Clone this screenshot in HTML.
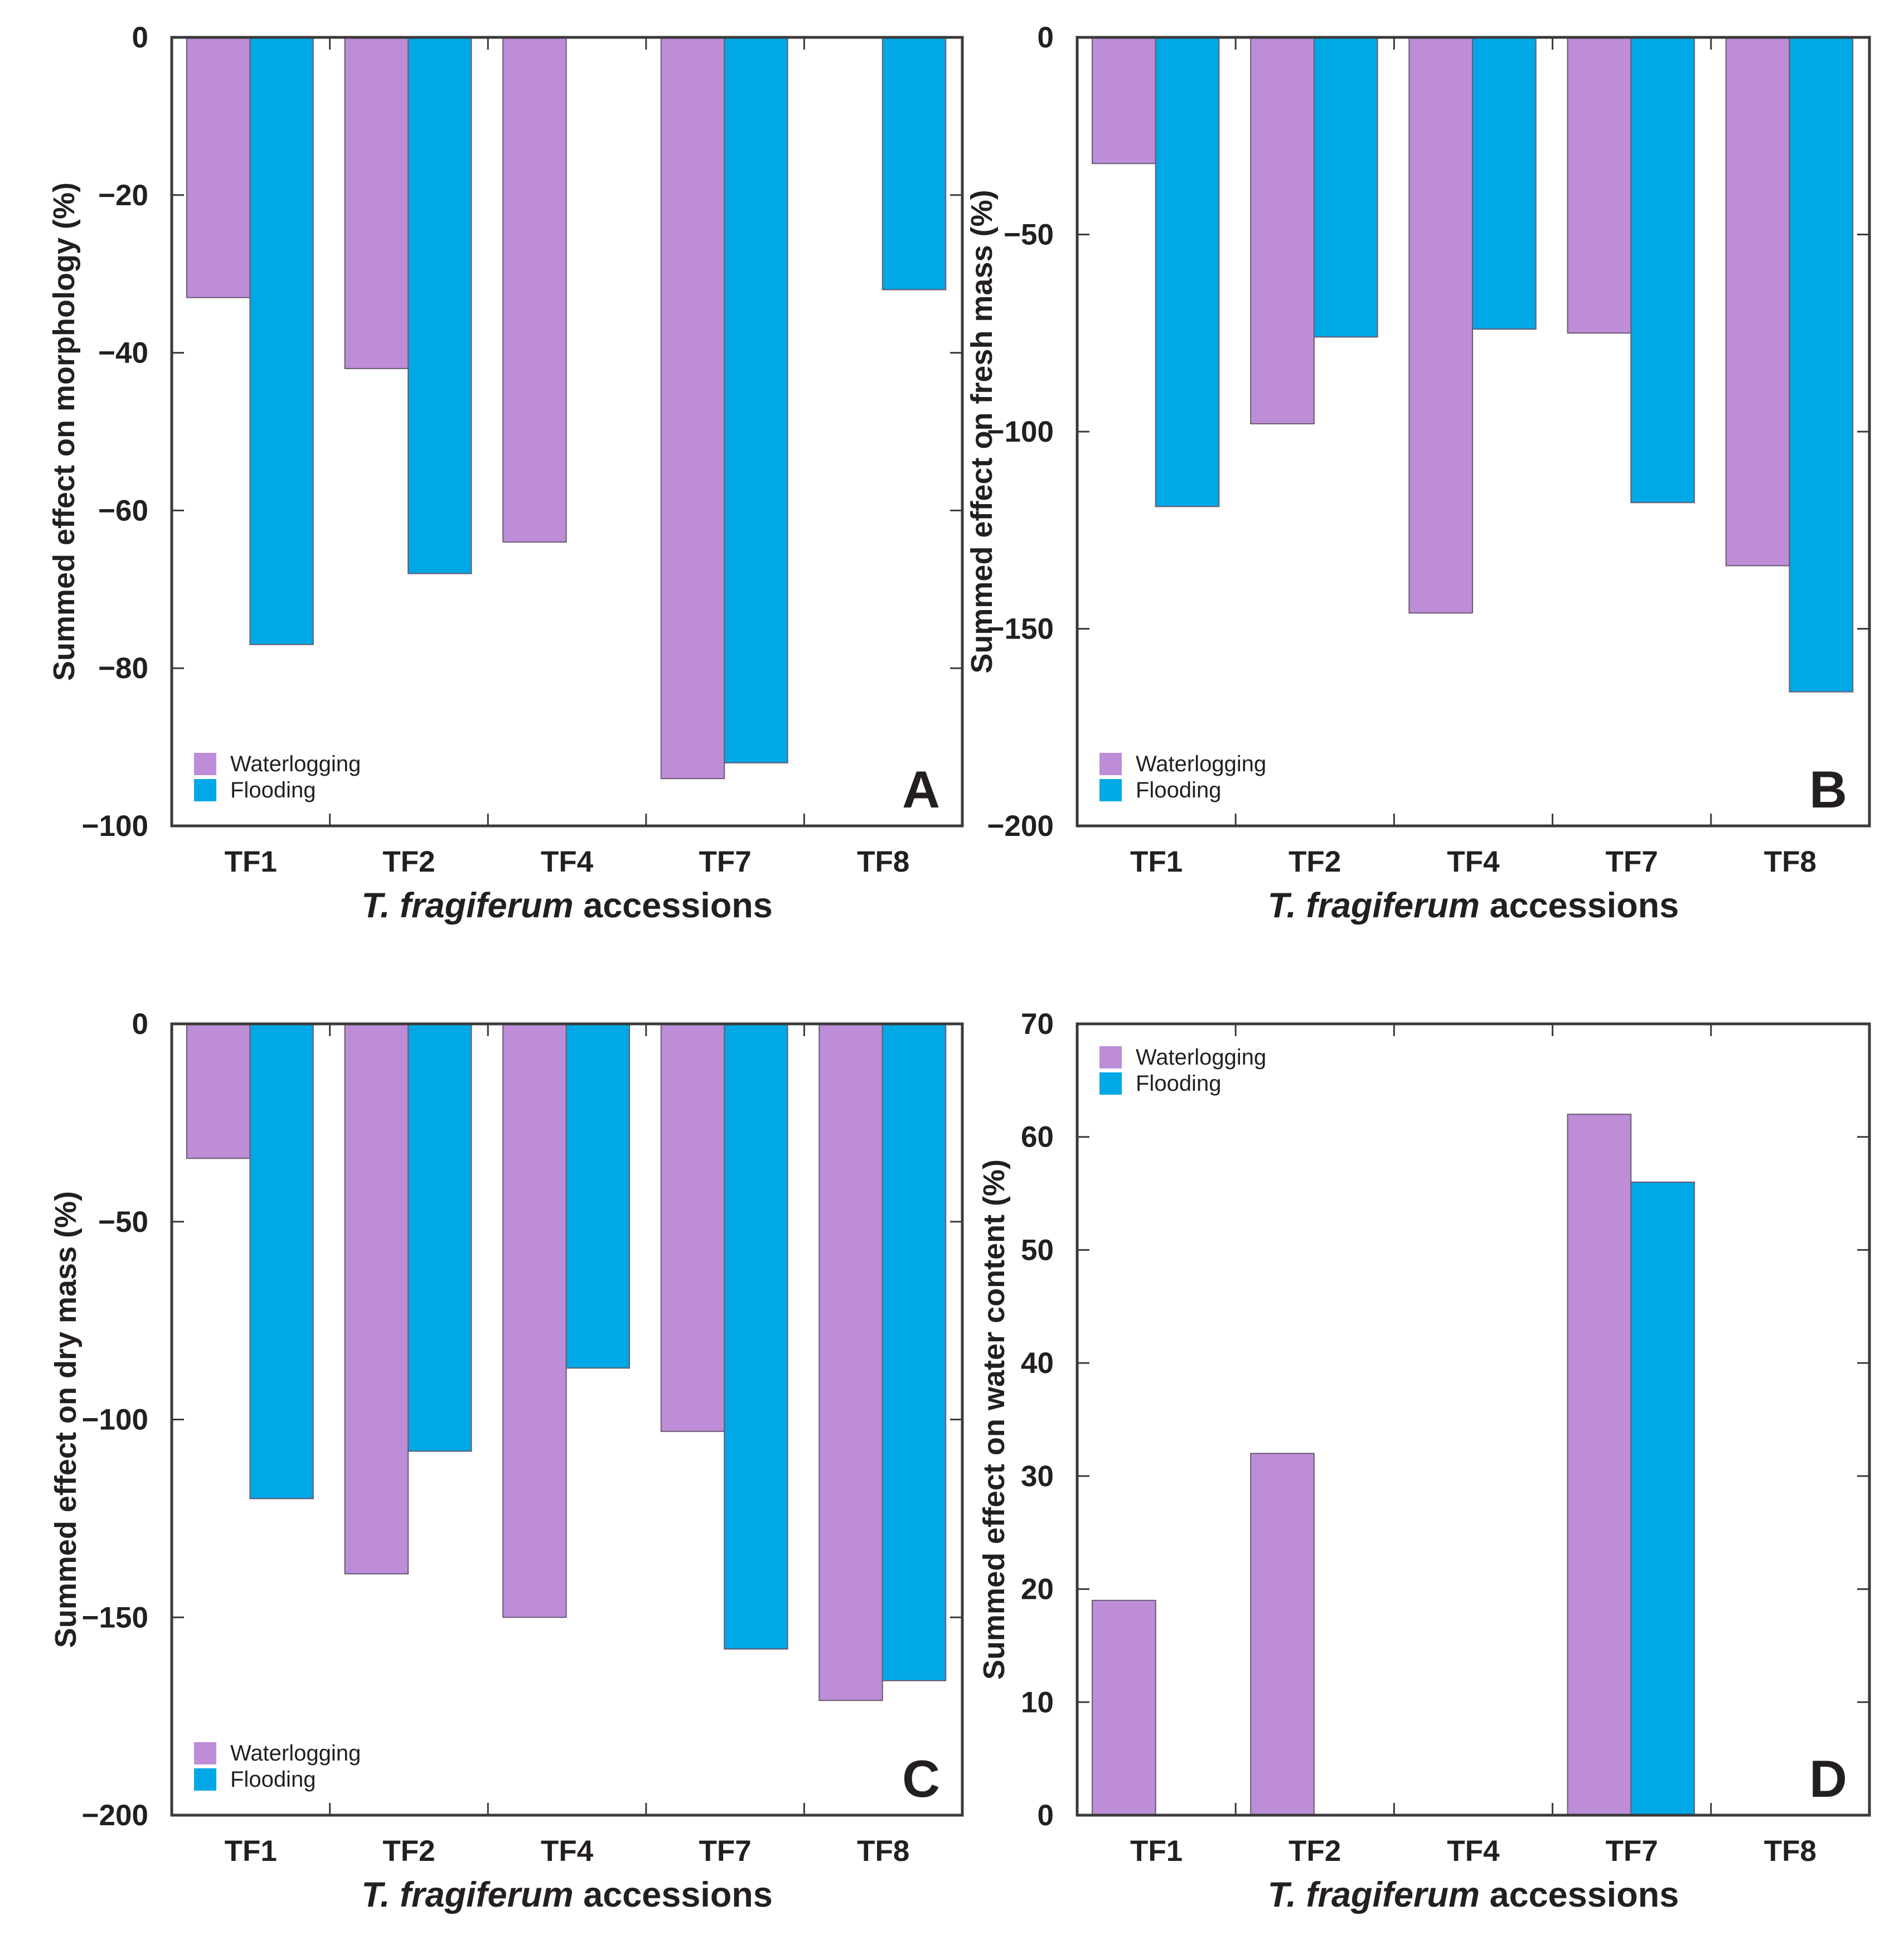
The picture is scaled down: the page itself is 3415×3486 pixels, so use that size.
<!DOCTYPE html>
<html><head><meta charset="utf-8"><style>
html,body{margin:0;padding:0;background:#fff;}
svg{display:block;}
text{font-family:"Liberation Sans",Arial,sans-serif;fill:#231f20;}
</style></head><body>
<svg id="fig" width="3415" height="3486" viewBox="0 0 3415 3486" xmlns="http://www.w3.org/2000/svg"></svg>
<script>
const categories = ["TF1","TF2","TF4","TF7","TF8"];
const seriesNames = ["Waterlogging","Flooding"];
const aWaterlogging = [-33,-42,-64,-94,0];
const aFlooding = [-77,-68,0,-92,-32];
const aTicks = [0,-20,-40,-60,-80,-100];
const bWaterlogging = [-32,-98,-146,-75,-134];
const bFlooding = [-119,-76,-74,-118,-166];
const bTicks = [0,-50,-100,-150,-200];
const cWaterlogging = [-34,-139,-150,-103,-171];
const cFlooding = [-120,-108,-87,-158,-166];
const cTicks = [0,-50,-100,-150,-200];
const dWaterlogging = [19,32,0,62,0];
const dFlooding = [0,0,0,56,0];
const dTicks = [0,10,20,30,40,50,60,70];

const NS="http://www.w3.org/2000/svg";
const svg=document.getElementById('fig');
const colors=["#bd8dd7","#00a8e6"];
function mk(tag,attrs,parent,txt){const e=document.createElementNS(NS,tag);for(const k in attrs)e.setAttribute(k,attrs[k]);if(txt!==undefined)e.textContent=txt;(parent||svg).appendChild(e);return e;}

function panel(p){
  const g=mk('g',{});
  
  
  const {x0,x1,y0,y1,ymin,ymax}=p;
  const yS=v=>y0+(ymax-v)/(ymax-ymin)*(y1-y0);
  const gw=(x1-x0)/categories.length;
  const xS=i=>x0+i*gw;
  const series=[p.wl,p.fl];
  series.forEach((vals,s)=>{
    vals.forEach((v,i)=>{
      if(v===0)return;
      const bx=xS(i)+gw*0.095+s*gw*0.4;
      const ya=yS(0),yb=yS(v);
      const r=mk('rect',{x:bx,y:Math.min(ya,yb),width:gw*0.4,height:Math.abs(yb-ya),fill:colors[s],stroke:'#6a5a70','stroke-width':2},g);
      
      
    });
  });
  const fr=mk('rect',{x:x0,y:y0,width:x1-x0,height:y1-y0,fill:'none',stroke:'#3a3a3a','stroke-width':5},g);
  
  
  p.ticks.forEach(t=>{
    const y=yS(t);
    mk('line',{x1:x0,x2:x0+22,y1:y,y2:y,stroke:'#3a3a3a','stroke-width':3},g);
    mk('line',{x1:x1,x2:x1-22,y1:y,y2:y,stroke:'#3a3a3a','stroke-width':3},g);
    const lab=mk('text',{x:x0-42,y:y+18,'text-anchor':'end','font-size':53,'font-weight':'bold'},g,t<0?'\u2212'+Math.abs(t):String(t));
    
    
  });
  for(let i=1;i<categories.length;i++){
    const x=xS(i);
    mk('line',{x1:x,x2:x,y1:y1,y2:y1-22,stroke:'#3a3a3a','stroke-width':3},g);
    mk('line',{x1:x,x2:x,y1:y0,y2:y0+22,stroke:'#3a3a3a','stroke-width':3},g);
  }
  categories.forEach((c,i)=>{
    const lab=mk('text',{x:xS(i)+gw/2,y:y1+82,'text-anchor':'middle','font-size':53,'font-weight':'bold'},g,c);
    
    
  });
  const xt=mk('text',{x:(x0+x1)/2,y:y1+164,'text-anchor':'middle','font-size':63,'font-weight':'bold'},g);
  
  
  mk('tspan',{'font-style':'italic'},xt,'T. fragiferum');
  mk('tspan',{},xt,' accessions');
  const cy=(y0+y1)/2;
  const yt=mk('text',{x:p.ytx,y:cy,'text-anchor':'middle','font-size':54,'font-weight':'bold',transform:'rotate(-90 '+p.ytx+' '+cy+')'},g,p.ytitle);
  
  
  seriesNames.forEach((n,s)=>{
    const ly=p.legY+s*47;
    const sq=mk('rect',{x:x0+40,y:ly,width:40,height:40,fill:colors[s]},g);
    
    
    const lt=mk('text',{x:x0+105,y:ly+33,'font-size':40},g,n);
    
    
  });
  const pl=mk('text',{x:x1-40,y:y1-33,'text-anchor':'end','font-size':94,'font-weight':'bold'},g,p.letter);
  
  
}
panel({letter:'A',x0:308,x1:1726,y0:67,y1:1481,ymin:-100,ymax:0,wl:aWaterlogging,fl:aFlooding,ticks:aTicks,ytitle:'Summed effect on morphology (%)',ytx:133,legY:1350});
panel({letter:'B',x0:1932,x1:3353,y0:67,y1:1481,ymin:-200,ymax:0,wl:bWaterlogging,fl:bFlooding,ticks:bTicks,ytitle:'Summed effect on fresh mass (%)',ytx:1779,legY:1350});
panel({letter:'C',x0:308,x1:1726,y0:1836,y1:3255,ymin:-200,ymax:0,wl:cWaterlogging,fl:cFlooding,ticks:cTicks,ytitle:'Summed effect on dry mass (%)',ytx:136,legY:3124});
panel({letter:'D',x0:1932,x1:3353,y0:1836,y1:3255,ymin:0,ymax:70,wl:dWaterlogging,fl:dFlooding,ticks:dTicks,ytitle:'Summed effect on water content (%)',ytx:1801,legY:1876});
</script>
</body></html>
